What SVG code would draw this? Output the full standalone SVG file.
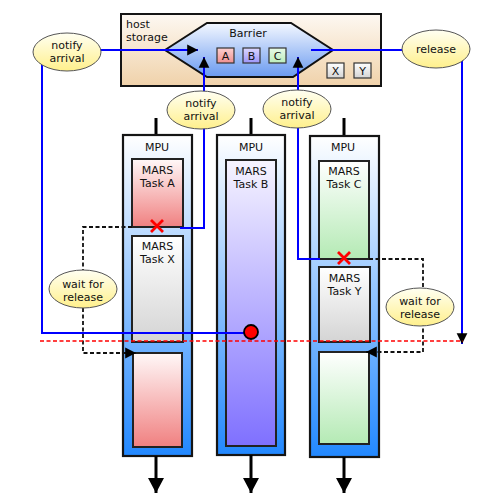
<svg xmlns="http://www.w3.org/2000/svg" width="500" height="500" viewBox="0 0 500 500">
<defs>
<linearGradient id="gHost" x1="0" y1="0" x2="0" y2="1"><stop offset="0" stop-color="#fdf8f2"/><stop offset="1" stop-color="#f0d2aa"/></linearGradient>
<linearGradient id="gBar" x1="0" y1="0" x2="0" y2="1"><stop offset="0" stop-color="#f4f8ff"/><stop offset="1" stop-color="#6a9af0"/></linearGradient>
<linearGradient id="gMpu" x1="0" y1="0" x2="0" y2="1"><stop offset="0" stop-color="#ffffff"/><stop offset="1" stop-color="#2288ff"/></linearGradient>
<linearGradient id="gRed" x1="0" y1="0" x2="0" y2="1"><stop offset="0" stop-color="#fff8f8"/><stop offset="1" stop-color="#f08080"/></linearGradient>
<linearGradient id="gGray" x1="0" y1="0" x2="0" y2="1"><stop offset="0" stop-color="#ffffff"/><stop offset="1" stop-color="#d4d4d4"/></linearGradient>
<linearGradient id="gPur" x1="0" y1="0" x2="0" y2="1"><stop offset="0" stop-color="#f6f4ff"/><stop offset="1" stop-color="#7f70ff"/></linearGradient>
<linearGradient id="gGrn" x1="0" y1="0" x2="0" y2="1"><stop offset="0" stop-color="#ffffff"/><stop offset="1" stop-color="#b4eab4"/></linearGradient>
<linearGradient id="gYel" x1="0" y1="0" x2="0" y2="1"><stop offset="0" stop-color="#fffff2"/><stop offset="1" stop-color="#fff08c"/></linearGradient>
<linearGradient id="gA" x1="0" y1="0" x2="0" y2="1"><stop offset="0" stop-color="#fcd0d0"/><stop offset="1" stop-color="#f09090"/></linearGradient>
<linearGradient id="gB" x1="0" y1="0" x2="0" y2="1"><stop offset="0" stop-color="#dcd8ff"/><stop offset="1" stop-color="#9c94f8"/></linearGradient>
<linearGradient id="gC" x1="0" y1="0" x2="0" y2="1"><stop offset="0" stop-color="#e8fae8"/><stop offset="1" stop-color="#bceebc"/></linearGradient>
<marker id="arr" markerUnits="userSpaceOnUse" markerWidth="12" markerHeight="12" refX="9" refY="5" orient="auto" viewBox="0 0 10 10"><path d="M0,0.5 L9,5 L0,9.5 Z" fill="#000"/></marker>
<marker id="big" markerUnits="userSpaceOnUse" markerWidth="16" markerHeight="16" refX="14" refY="7.5" orient="auto" viewBox="0 0 15 15"><path d="M0,0 L14,7.5 L0,15 Z" fill="#000"/></marker>
</defs>
<style>
text{font-family:"DejaVu Sans",Verdana,sans-serif;font-size:11px;fill:#111}
.mid{text-anchor:middle}
.mpu{stroke:#151515;stroke-width:2.2}
.task{stroke:#222;stroke-width:2}
.ell{fill:url(#gYel);stroke:#555;stroke-width:1}
.blue{fill:none;stroke:#0000ff;stroke-width:2}
.dash{fill:none;stroke:#111;stroke-width:1.8;stroke-dasharray:4,2.5}
.stem{stroke:#000;stroke-width:3;fill:none}
.x{stroke:#ff0000;stroke-width:2.8;fill:none}
.small{stroke:#333;stroke-width:1.2}
</style>

<g id="host-storage">
<rect x="121" y="14" width="260" height="72" fill="url(#gHost)" stroke="#151515" stroke-width="2"/>
<text x="126" y="27.5">host</text>
<text x="126" y="40.5">storage</text>
</g>

<g id="barrier">
<polygon points="165,50 207,23 291,23 333,50 293,77 207,77" fill="url(#gBar)" stroke="#111" stroke-width="2"/>
<text class="mid" x="248" y="37">Barrier</text>
<rect x="217" y="48" width="17" height="15" fill="url(#gA)" class="small"/>
<text class="mid" x="225.5" y="60">A</text>
<rect x="243" y="48" width="17" height="15" fill="url(#gB)" class="small"/>
<text class="mid" x="251.5" y="60">B</text>
<rect x="269" y="48" width="17" height="15" fill="url(#gC)" class="small"/>
<text class="mid" x="277.5" y="60">C</text>
</g>

<g id="slot-x"><rect x="327" y="63" width="17" height="15" fill="url(#gGray)" class="small"/><text class="mid" x="335.5" y="75">X</text></g>
<g id="slot-y"><rect x="354" y="63" width="17" height="15" fill="url(#gGray)" class="small"/><text class="mid" x="362.5" y="75">Y</text></g>

<g id="mpu1">
<line class="stem" x1="156" y1="118" x2="156" y2="135"/>
<rect class="mpu" x="123" y="135" width="69" height="321" fill="url(#gMpu)"/>
<text class="mid" x="157" y="151">MPU</text>
<rect class="task" x="132" y="159" width="51" height="68" fill="url(#gRed)"/>
<text class="mid" x="157.5" y="174">MARS</text>
<text class="mid" x="157.5" y="187">Task A</text>
<rect class="task" x="132" y="236" width="51" height="106" fill="url(#gGray)"/>
<text class="mid" x="157.5" y="250">MARS</text>
<text class="mid" x="157.5" y="263">Task X</text>
<rect class="task" x="133" y="353" width="49" height="94" fill="url(#gRed)"/>
</g>

<g id="mpu2">
<line class="stem" x1="251" y1="118" x2="251" y2="135"/>
<rect class="mpu" x="217" y="135" width="68" height="320" fill="url(#gMpu)"/>
<text class="mid" x="251" y="151">MPU</text>
<rect class="task" x="226" y="160" width="50" height="286" fill="url(#gPur)"/>
<text class="mid" x="251" y="175">MARS</text>
<text class="mid" x="251" y="188">Task B</text>
</g>

<g id="mpu3">
<line class="stem" x1="344" y1="118" x2="344" y2="136"/>
<rect class="mpu" x="310" y="136" width="69" height="321" fill="url(#gMpu)"/>
<text class="mid" x="343" y="151">MPU</text>
<rect class="task" x="319" y="161" width="50" height="98" fill="url(#gGrn)"/>
<text class="mid" x="344" y="175">MARS</text>
<text class="mid" x="344" y="188">Task C</text>
<rect class="task" x="319" y="267" width="51" height="75" fill="url(#gGray)"/>
<text class="mid" x="344.5" y="281.5">MARS</text>
<text class="mid" x="344.5" y="294.5">Task Y</text>
<rect class="task" x="319" y="352" width="50" height="92" fill="url(#gGrn)"/>
</g>

<g id="connectors">
<path class="blue" d="M101,50 H198" marker-end="url(#arr)"/>
<path class="blue" d="M180,228 H204 V57" marker-end="url(#arr)"/>
<path class="blue" d="M320,259 H298 V57" marker-end="url(#arr)"/>
<path class="blue" d="M311,50 H462 V344" marker-end="url(#arr)"/>
<path class="blue" d="M42,65 V333 H244" stroke-width="1.8"/>
<path class="dash" d="M132,227 H83 V353 H136" marker-end="url(#arr)"/>
<path class="dash" d="M369,259 H423 V352 H366" marker-end="url(#arr)"/>
<line x1="40" y1="341" x2="463" y2="341" stroke="#ff0000" stroke-width="1.6" stroke-dasharray="4,2.5"/>
<path class="stem" d="M156,456 V493" marker-end="url(#big)"/>
<path class="stem" d="M251,455 V493" marker-end="url(#big)"/>
<path class="stem" d="M344,457 V493" marker-end="url(#big)"/>
</g>

<g id="marker-a"><path class="x" d="M151,220 L163,232 M163,220 L151,232"/></g>
<g id="marker-c"><path class="x" d="M338,252 L350,264 M350,252 L338,264"/></g>
<g id="barrier-point"><circle cx="251" cy="332" r="7" fill="#ff0000" stroke="#000" stroke-width="1.8"/></g>

<g id="notify-arrival-1"><ellipse class="ell" cx="67" cy="52" rx="34" ry="19"/><text class="mid" x="67" y="49">notify</text><text class="mid" x="67" y="62">arrival</text></g>
<g id="notify-arrival-2"><ellipse class="ell" cx="201" cy="110" rx="34" ry="19"/><text class="mid" x="201" y="107">notify</text><text class="mid" x="201" y="120">arrival</text></g>
<g id="notify-arrival-3"><ellipse class="ell" cx="297" cy="109" rx="34" ry="19"/><text class="mid" x="297" y="106">notify</text><text class="mid" x="297" y="119">arrival</text></g>
<g id="release"><ellipse class="ell" cx="436" cy="49" rx="34" ry="19"/><text class="mid" x="436" y="53">release</text></g>
<g id="wait-release-1"><ellipse class="ell" cx="83" cy="289" rx="34" ry="19"/><text class="mid" x="83" y="287.5">wait for</text><text class="mid" x="83" y="300.5">release</text></g>
<g id="wait-release-2"><ellipse class="ell" cx="420" cy="307" rx="34" ry="19"/><text class="mid" x="420" y="304.5">wait for</text><text class="mid" x="420" y="317.5">release</text></g>
</svg>
